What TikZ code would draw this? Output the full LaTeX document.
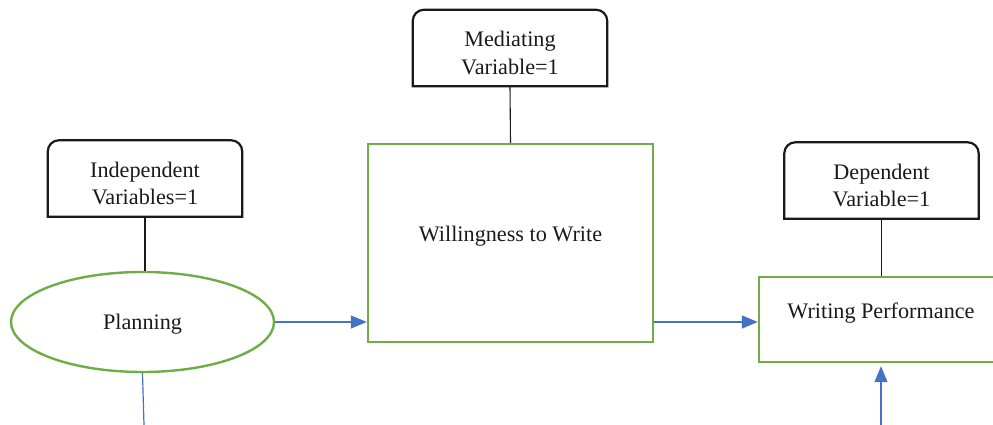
\documentclass[tikz,border=0pt]{standalone}
\usepackage{fontspec}
\setmainfont{Liberation Serif}
\usetikzlibrary{arrows.meta,shapes.geometric}
\definecolor{boxgreen}{HTML}{70AD47}
\definecolor{flowblue}{HTML}{4472C4}
\definecolor{inkdark}{HTML}{1A1A1A}
\begin{document}
\begin{tikzpicture}[x=1pt,y=1pt,
  font=\fontsize{22.2}{27.5}\selectfont,
  varbox/.style={minimum width=194pt,minimum height=76pt,inner sep=0pt},
  varedge/.style={draw=inkdark,line width=2.2pt},
  stage/.style={draw=boxgreen,line width=2.4pt,inner sep=0pt},
  tie/.style={draw=inkdark,line width=1.1pt},
  flow/.style={draw=flowblue,line width=1.2pt},
  flowarrow/.style={flow,-{Triangle[length=16pt,width=13pt]}}]
\path[use as bounding box,clip] (0,0) rectangle (993,425);

% variable header boxes (rounded top corners, square bottom)
\node[varbox,label={[yshift=-5pt,align=center,text=inkdark]center:Independent\\Variables=1}] (iv) at (145,246.5) {};
\node[varbox,label={[yshift=-5pt,align=center,text=inkdark]center:Mediating\\Variable=1}] (mv) at (510,377) {};
\node[varbox,label={[yshift=-5pt,align=center,text=inkdark]center:Dependent\\Variable=1}] (dv) at (881.5,244.5) {};
\foreach \b in {iv,mv,dv}{
  \draw[varedge] (\b.south west) -- ([yshift=-11pt]\b.north west)
    arc[start angle=180,end angle=90,radius=11pt]
    -- ([xshift=-11pt]\b.north east)
    arc[start angle=90,end angle=0,radius=11pt]
    -- (\b.south east) -- cycle;
}

% stages of the model
\node[stage,ellipse,minimum width=263pt,minimum height=100pt,
  label={[yshift=-2pt,text=inkdark]center:Planning}] (pl) at (142.5,103) {};
\node[stage,rectangle,minimum width=285pt,minimum height=198pt,
  label={[yshift=7pt,text=inkdark]center:Willingness to Write}] (wtw) at (510.5,182) {};
\node[stage,rectangle,minimum width=244pt,minimum height=85pt,
  label={[yshift=6.5pt,text=inkdark]center:Writing Performance}] (wp) at (881,105.5) {};

% ties from headers to stages
\draw[tie] (iv.south) -- (iv.south |- pl.north);
\draw[tie] (mv.south) -- (wtw.north);
\draw[tie] (dv.south) -- (dv.south |- wp.north);

% flow between stages
\coordinate (plout) at (144,0);
\coordinate (wpin) at (881,0);
\draw[flow] (pl.south) -- (plout);
\draw[flowarrow] (pl.east) -- (pl.east -| wtw.west);
\draw[flowarrow] (wtw.east |- pl.east) -- (wp.west |- pl.east);
\draw[flowarrow,shorten >=3pt] (wpin) -- (wpin |- wp.south);
\end{tikzpicture}
\end{document}
